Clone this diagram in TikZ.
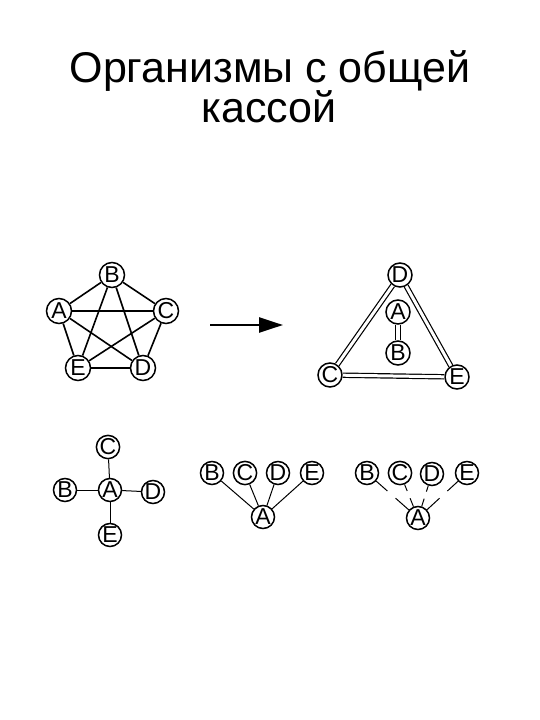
\documentclass[tikz,border=0pt]{standalone}
\usepackage{fontspec}
\setmainfont{Liberation Sans}
\usetikzlibrary{arrows.meta,calc}

\begin{document}
\begin{tikzpicture}[x=1pt,y=-1pt,
  org/.style={circle,draw,line width=1.5pt,inner sep=0pt,minimum size=24pt,font=\fontsize{23}{23}\selectfont},
  link/.style={line width=1.6pt},
  pair/.style={double,line width=1.2pt,double distance=3pt}]
\useasboundingbox (0,0) rectangle (540,720);
% title
\node[anchor=base,font=\fontsize{43}{43}\selectfont] (title) at (270,82) {Организмы с общей};
\node[anchor=base,font=\fontsize{43}{43}\selectfont] (title2) at (269,122) {кассой};
% all with all
\node[org,minimum size=25pt] (b1) at (112,275) {B};
\node[org,minimum size=25pt] (a1) at (59,311) {A};
\node[org,minimum size=25pt] (c1) at (166,311) {C};
\node[org,minimum size=25pt] (e1) at (78,368) {E};
\node[org,minimum size=25pt] (d1) at (143,368) {D};
\foreach \u/\v in {a1/b1,b1/c1,a1/c1,a1/e1,a1/d1,b1/e1,b1/d1,c1/e1,c1/d1}
  \draw[link] (\u) -- (\v);
\draw[line width=2.4pt] (e1) -- (d1);
% arrow
\coordinate (from) at (210,325);
\coordinate (to) at (283,325);
\draw[line width=2.5pt,-{Triangle[length=24pt,width=15pt]}] (from) -- (to);
% triangle
\node[org] (d2) at (400,275) {D};
\node[org] (a2) at (398,312) {A};
\node[org] (b2) at (398,353) {B};
\node[org] (c2) at (330,375) {C};
\node[org] (e2) at (457,377) {E};
\draw[pair] (d2) -- (c2);
\draw[pair] (d2) -- (e2);
\draw[pair] (c2) -- (e2);
\draw[pair,double distance=4pt] (a2) -- (b2);
% star
\node[org,minimum size=23pt] (a3) at (110,490) {A};
\node[org,minimum size=23pt] (c3) at (108,447) {C};
\node[org,minimum size=23pt] (b3) at (65,490) {B};
\node[org,minimum size=23pt] (d3) at (153,492) {D};
\node[org,minimum size=23pt] (e3) at (110,535) {E};
\foreach \v in {b3,c3,d3,e3}
  \draw[line width=1pt] (a3) -- (\v);
% fan
\node[org,minimum size=23pt] (b4) at (212,473) {B};
\node[org,minimum size=23pt] (c4) at (245,473) {C};
\node[org,minimum size=23pt] (d4) at (278,473) {D};
\node[org,minimum size=23pt] (e4) at (312,473) {E};
\node[org,minimum size=23pt] (a4) at (263,517) {A};
\foreach \v in {b4,c4,d4,e4}
  \draw[line width=1pt] (\v) -- (a4);
% broken fan
\node[org,minimum size=23pt] (b5) at (367,473) {B};
\node[org,minimum size=23pt] (c5) at (400,473) {C};
\node[org,minimum size=23pt] (d5) at (432,474) {D};
\node[org,minimum size=23pt] (e5) at (467,473) {E};
\node[org,minimum size=23pt] (a5) at (418,518) {A};
\foreach \v in {b5,c5,d5,e5} {
  \draw[line width=1pt] (\v) -- ($(\v)!.4!(a5)$);
  \draw[line width=1pt] ($(\v)!.56!(a5)$) -- (a5);
}
\end{tikzpicture}
\end{document}
